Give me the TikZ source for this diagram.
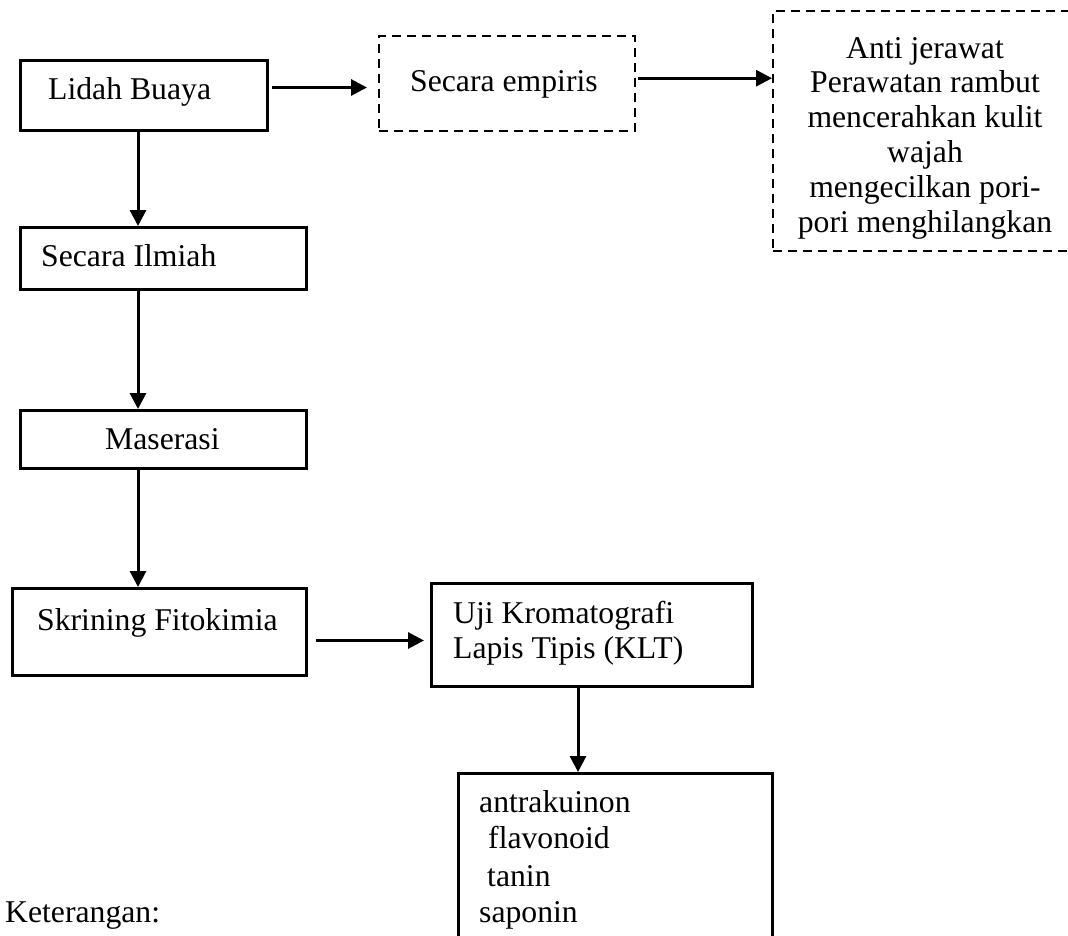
\documentclass[tikz,border=0pt]{standalone}
\usepackage{fontspec}
\setmainfont{Liberation Serif}
\usetikzlibrary{arrows.meta}

\tikzset{
  box/.style={draw, line width=3pt, anchor=north west, inner sep=0pt},
  dbox/.style={box, line width=2.4pt, dash pattern=on 9pt off 6pt},
  txt/.style={inner sep=0pt, font=\fontsize{31.7}{35}\selectfont},
  arr/.style={line width=3pt, -{Triangle[length=16pt,width=16pt]}}
}

\begin{document}
\begin{tikzpicture}[x=1pt,y=-1pt]
\useasboundingbox (0,0) rectangle (1068,935);
\clip (0,0) rectangle (1068,935);

% kotak
\node[box, minimum width=247pt, minimum height=70pt] (lidah) at (19,59) {};
\node[dbox, minimum width=256pt, minimum height=95pt] (empiris) at (378,35) {};
\node[dbox, minimum width=306pt, minimum height=240pt] (manfaat) at (772,10) {};
\node[box, minimum width=286pt, minimum height=62pt] (ilmiah) at (19,226) {};
\node[box, minimum width=286pt, minimum height=58pt] (maserasi) at (19,409) {};
\node[box, minimum width=294pt, minimum height=87pt] (skrining) at (11,587) {};
\node[box, minimum width=321pt, minimum height=103pt] (klt) at (430,582) {};
\node[box, minimum width=314pt, minimum height=200pt] (hasil) at (457,772) {};

% teks
\node[txt, anchor=base west] (tLidah) at (48,99) {Lidah Buaya};
\node[txt, anchor=base west] (tEmpiris) at (410,91) {Secara empiris};
\node[txt, anchor=base west] (tIlmiah) at (41,266) {Secara Ilmiah};
\node[txt, anchor=base west] (tMaserasi) at (105,449) {Maserasi};
\node[txt, anchor=base west] (tSkrining) at (37,630) {Skrining Fitokimia};
\node[txt, anchor=base west] (tKlt1) at (453,623) {Uji Kromatografi};
\node[txt, anchor=base west] (tKlt2) at (453,658) {Lapis Tipis (KLT)};
\node[txt, anchor=base west] (tKet) at (5,922) {Keterangan:};

\foreach \baris [count=\i from 0] in {Anti jerawat, Perawatan rambut,
    mencerahkan kulit, wajah, mengecilkan pori-, pori menghilangkan}
  \node[txt, anchor=base] (guna\i) at (925,58+34.8*\i) {\baris};

\foreach \x/\y/\nama [count=\i] in {479/812/antrakuinon, 488/848/flavonoid,
    487/886/tanin, 479/922/saponin}
  \node[txt, anchor=base west] (zat\i) at (\x,\y) {\nama};

% panah
\coordinate (spine) at (138,0);
\coordinate (spineK) at (578,0);

\draw[arr, shorten <=3pt, shorten >=11pt] ([yshift=8pt]lidah.east) -- ([yshift=8pt]lidah.east -| empiris.west);
\draw[arr, shorten <=2pt] ([yshift=5.5pt]empiris.east) -- ([yshift=5.5pt]empiris.east -| manfaat.west);
\draw[arr] (spine |- lidah.south) -- (spine |- ilmiah.north);
\draw[arr] (spine |- ilmiah.south) -- (spine |- maserasi.north);
\draw[arr] (spine |- maserasi.south) -- (spine |- skrining.north);
\draw[arr, shorten <=8pt, shorten >=6pt] ([yshift=-8.5pt]skrining.east) -- ([yshift=-8.5pt]skrining.east -| klt.west);
\draw[arr] (spineK |- klt.south) -- (spineK |- hasil.north);
\end{tikzpicture}
\end{document}
